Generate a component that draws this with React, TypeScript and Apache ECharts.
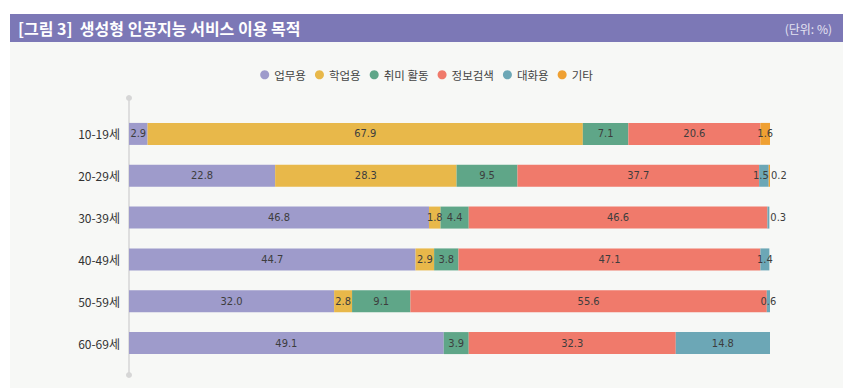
import React, { useEffect, useRef } from "react";
import * as echarts from "echarts";

const categories = ["10-19세", "20-29세", "30-39세", "40-49세", "50-59세", "60-69세"];
const seriesNames = ["업무용", "학업용", "취미 활동", "정보검색", "대화용", "기타"];
const work = [2.9, 22.8, 46.8, 44.7, 32.0, 49.1];
const study = [67.9, 28.3, 1.8, 2.9, 2.8, 0];
const hobby = [7.1, 9.5, 4.4, 3.8, 9.1, 3.9];
const search = [20.6, 37.7, 46.6, 47.1, 55.6, 32.3];
const chat = [0, 1.5, 0.3, 1.4, 0.6, 14.8];
const etc = [1.6, 0.2, 0, 0, 0, 0];
const colors = ["#9e9bcb", "#e8b84a", "#5fa688", "#f07a6b", "#6ca7b6", "#efa032"];

const numFont = "'Liberation Sans Narrow', 'DejaVu Sans Condensed', sans-serif";
const krFont = "'Noto Sans CJK KR', sans-serif";

export default function App() {
  const ref = useRef<HTMLDivElement>(null);
  useEffect(() => {
    if (!ref.current) return;
    const chart = echarts.init(ref.current, undefined, { renderer: "svg" });
    const all = [work, study, hobby, search, chat, etc];
    const series = all.map((vals, si) => ({
      name: seriesNames[si],
      type: "bar",
      stack: "total",
      barWidth: 22,
      itemStyle: { color: colors[si] },
      data: vals.map((v, ci) => {
        const small = v > 0 && v < 0.5;
        const nextSmall = si < 5 && all[si + 1][ci] > 0 && all[si + 1][ci] < 0.5;
        return {
          value: v,
          label: {
            show: v > 0,
            position: small ? "right" : "inside",
            distance: small ? 1 : 5,
            offset: nextSmall && v < 3 ? [-3, 0] : [0, 0],
          },
        };
      }),
      label: {
        show: true,
        color: "#3d3d3d",
        fontSize: 11,
        fontFamily: numFont,
        formatter: (p: any) => (p.value > 0 ? Number(p.value).toFixed(1) : ""),
      },
    }));
    chart.setOption({
      animation: false,
      backgroundColor: "transparent",
      legend: {
        top: 64,
        left: "center",
        icon: "circle",
        itemWidth: 9,
        itemHeight: 9,
        itemGap: 9,
        textStyle: { fontFamily: krFont, fontSize: 11.5, color: "#444" },
        data: seriesNames,
      },
      grid: { left: 129, right: 83, top: 113, bottom: 24 },
      xAxis: {
        type: "value",
        min: 0,
        max: 100,
        show: false,
      },
      yAxis: {
        type: "category",
        inverse: true,
        data: categories,
        axisLine: { show: false },
        axisTick: { show: false },
        axisLabel: { fontFamily: krFont, fontSize: 12, color: "#333", margin: 9 },
      },
      graphic: [
        { type: "rect", shape: { x: 10, y: 14, width: 833, height: 28 }, style: { fill: "#7c78b6" }, z: -10 },
        { type: "rect", shape: { x: 10, y: 42, width: 833, height: 346 }, style: { fill: "#f7f8f6" }, z: -10 },
        {
          type: "text",
          x: 18,
          y: 28,
          style: { text: "[그림 3]  생성형 인공지능 서비스 이용 목적", fill: "#ffffff", fontFamily: krFont, fontSize: 16, fontWeight: "bold", verticalAlign: "middle" },
        },
        {
          type: "text",
          x: 832,
          y: 28,
          style: { text: "(단위: %)", fill: "#e4e3f2", fontFamily: krFont, fontSize: 12, align: "right", verticalAlign: "middle" },
        },
        { type: "line", shape: { x1: 129, y1: 99, x2: 129, y2: 374 }, style: { stroke: "#d6d6d6", lineWidth: 1.5 } },
        { type: "circle", shape: { cx: 129, cy: 98, r: 3 }, style: { fill: "#d6d6d6" } },
        { type: "circle", shape: { cx: 129, cy: 375, r: 3 }, style: { fill: "#d6d6d6" } },
      ],
      series,
    });
    return () => chart.dispose();
  }, []);
  return <div ref={ref} style={{ width: 853, height: 388, position: "absolute", left: 0, top: 0 }} />;
}
